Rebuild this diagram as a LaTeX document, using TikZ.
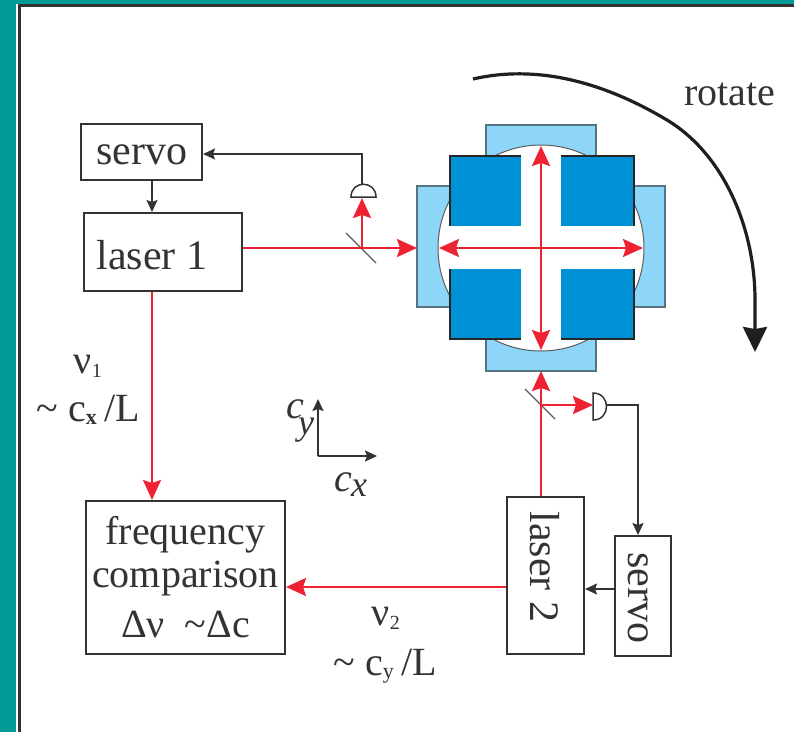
\documentclass[tikz,border=0pt]{standalone}
\usepackage{fontspec}
\setmainfont{Liberation Serif}
\usetikzlibrary{arrows.meta}
\definecolor{teal0}{HTML}{009B96}
\definecolor{redbeam}{HTML}{EE2233}
\definecolor{darkblue}{HTML}{0090D6}
\definecolor{lightblue}{HTML}{8ED6F8}
\definecolor{ink}{HTML}{333333}
\tikzset{
  x=1pt,y=-1pt,
  boxnode/.style={draw=ink,line width=2pt,fill=white,inner sep=0pt,align=center,text=ink,font=\fontsize{40}{43}\selectfont},
  lbl/.style={anchor=base,inner sep=0pt,text=ink,font=\fontsize{40}{44}\selectfont},
  boxlbl/.style={lbl,font=\fontsize{42}{44}\selectfont},
  beam/.style={draw=redbeam,line width=2.4pt},
  beamtip/.style={-{Stealth[length=20pt,width=18pt,inset=3pt]}},
  beamboth/.style={{Stealth[length=20pt,width=18pt,inset=3pt]}-{Stealth[length=20pt,width=18pt,inset=3pt]}},
  wire/.style={draw=ink,line width=1.8pt,-{Stealth[length=12pt,width=11pt,inset=2pt]}},
  mirror/.style={draw=ink!80,line width=1.3pt},
  lightpad/.style={draw=ink!60!lightblue,line width=1.2pt,fill=lightblue},
  edge/.style={draw=black!85,line width=1.8pt},
}
\begin{document}
\begin{tikzpicture}
\useasboundingbox (0,0) rectangle (794,732);
\fill[teal0] (0,0) rectangle (794,732);
\fill[white] (16,4) rectangle (794,732);
\fill[ink] (18,4) rectangle (794,7);
\fill[ink] (18,4) rectangle (21,732);

% cavity
\draw[lightpad] (486,125) rectangle (596,156);
\draw[lightpad] (486,339) rectangle (596,371);
\draw[lightpad] (417,186) rectangle (450,307);
\draw[lightpad] (634,186) rectangle (665,307);
\draw[draw=ink!80,line width=1pt,fill=white] (541,248) circle[radius=103];
\fill[darkblue] (450,156) rectangle (521,226);
\draw[edge] (450,226) -- (450,156) -- (521,156);
\fill[darkblue] (561,156) rectangle (634,226);
\draw[edge] (561,156) -- (634,156) -- (634,226);
\fill[darkblue] (450,269) rectangle (521,339);
\draw[edge] (450,269) -- (450,339) -- (521,339);
\fill[darkblue] (561,269) rectangle (634,339);
\draw[edge] (561,339) -- (634,339) -- (634,269);

\coordinate (cavT) at (541,146);
\coordinate (cavB) at (541,350);
\coordinate (cavL) at (439,248);
\coordinate (cavR) at (643,248);
\coordinate (padL) at (417,248);
\coordinate (padB) at (541,371);
\draw[beam,beamboth] (cavT) -- (cavB);
\draw[beam,beamboth] (cavL) -- (cavR);

% boxes
\node[boxnode,minimum width=121pt,minimum height=56pt] (servoA) at (141.5,152) {};
\node[boxlbl] (servoAt) at (142,164) {servo};
\node[boxnode,minimum width=158pt,minimum height=78pt] (laserA) at (163,252) {};
\node[boxlbl] (laserAt) at (152,269) {laser 1};
\node[boxnode,minimum width=199pt,minimum height=153pt] (freq) at (185.5,577.5) {frequency\\comparison\\[7pt]Δν\ \ \textasciitilde Δc};
\node[boxnode,minimum width=77pt,minimum height=157pt] (laserB) at (545.5,575.5) {};
\node[boxnode,minimum width=56pt,minimum height=120pt] (servoB) at (643,596) {};
\node[boxlbl,rotate=-90] (laserBt) at (530,567) {laser 2};
\node[boxlbl,rotate=-90] (servoBt) at (628,598) {servo};

% beam splitters and detectors
\coordinate (bsA) at (362,248);
\coordinate (bsB) at (541,405);
\coordinate (detA) at (362,198);
\coordinate (detAtop) at (362,184);
\coordinate (detB) at (593,405);
\coordinate (detBout) at (607,405);
\draw[mirror] (346,233) -- (376,263);
\draw[mirror] (525,389) -- (555,419);
\draw[draw=ink,line width=1.5pt,fill=white] (351,197) .. controls (351,180) and (376,180) .. (376,197) -- cycle;
\draw[draw=ink,line width=1.5pt,fill=white] (593,393) .. controls (611,393) and (611,420) .. (593,420) -- cycle;

% beams
\draw[beam,beamtip] (laserA.east |- bsA) -- (padL);
\draw[beam,beamtip] (bsA) -- (detA);
\draw[beam,beamtip] (laserA.south -| 152,0) -- (freq.north -| 152,0);
\draw[beam,beamtip] (laserB.north -| bsB) -- (padB);
\draw[beam,beamtip] (bsB) -- (detB);
\draw[beam,beamtip] (laserB.west |- 0,587) -- (freq.east |- 0,587);

% electronics
\draw[wire] (detAtop) -- (362,154) -- (servoA.east |- 0,154);
\draw[wire] (servoA.south -| 152,0) -- (laserA.north -| 152,0);
\draw[wire] (detBout) -- (638,405) -- (servoB.north -| 638,0);
\draw[wire] (servoB.west |- 0,589) -- (laserB.east |- 0,589);

% axes
\coordinate (ax0) at (318,456);
\coordinate (axY) at (318,399);
\coordinate (axX) at (377,456);
\draw[wire] (ax0) -- (axY);
\draw[wire] (ax0) -- (axX);
\node[lbl,font=\fontsize{40}{40}\itshape] (cy) at (295,418) {c};
\node[lbl,font=\fontsize{36}{36}\itshape] (cyS) at (306,434) {y};
\node[lbl,font=\fontsize{40}{40}\itshape] (cx) at (343,491) {c};
\node[lbl,font=\fontsize{36}{36}\itshape] (cxS) at (359,496) {x};

% rotation arrow
\coordinate (rotS) at (473,79);
\coordinate (rotE) at (755,352);
\draw[draw=black!88,line width=3.2pt,-{Stealth[length=25pt,width=24pt,inset=2pt]}]
  (rotS) .. controls (525,67) and (590,74) .. (667,120)
  .. controls (725,155) and (755,230) .. (755,300) -- (rotE);
\node[lbl] (rot) at (730,105) {rotate};

% labels
\node[lbl] (nuA) at (88,373) {ν\textsubscript{\fontsize{20}{20}\selectfont 1}};
\node[lbl] (fA) at (88,421) {\textasciitilde\ c\textsubscript{\fontsize{22}{22}\selectfont\bfseries x}\,/L};
\node[lbl] (nuB) at (386,625) {ν\textsubscript{\fontsize{20}{20}\selectfont 2}};
\node[lbl] (fB) at (385,675) {\textasciitilde\ c\textsubscript{\fontsize{22}{22}\selectfont y}\,/L};
\end{tikzpicture}
\end{document}
